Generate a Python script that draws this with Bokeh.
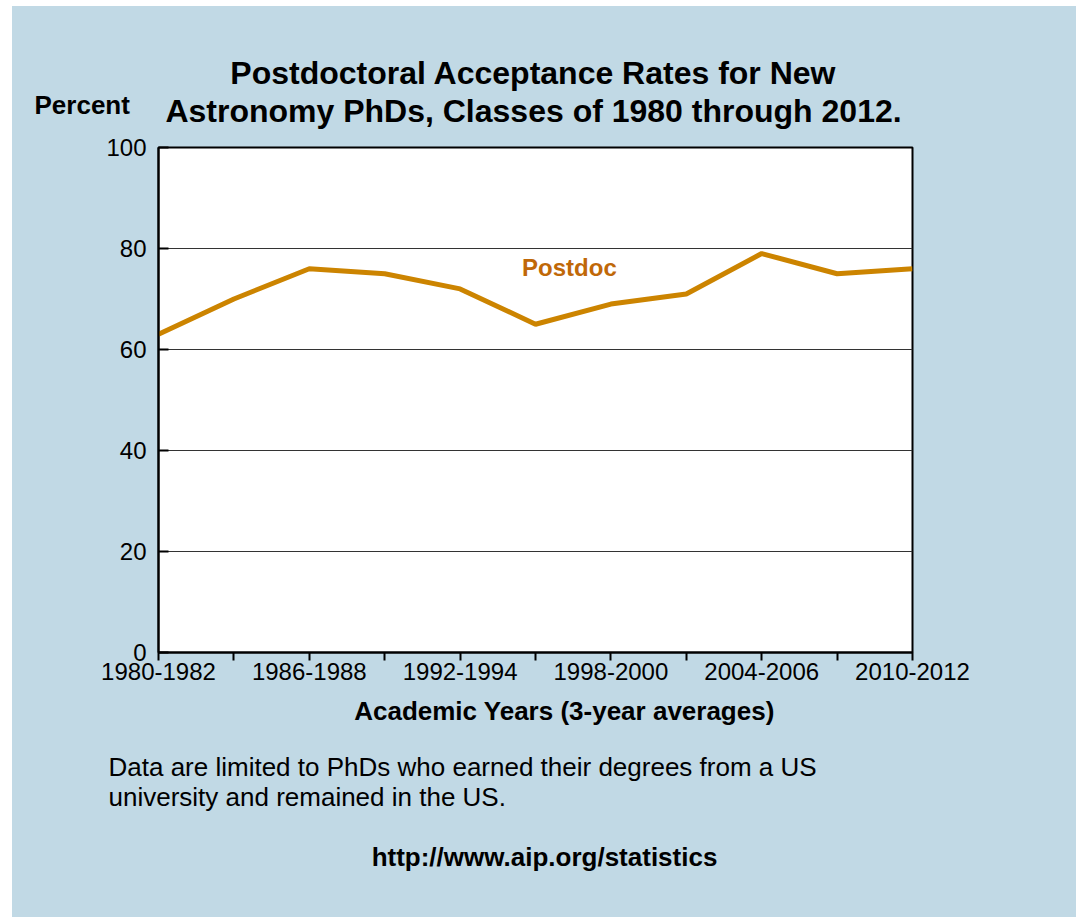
from bokeh.plotting import figure
from bokeh.models import Range1d, FixedTicker, Label
from bokeh.layouts import column
from bokeh.embed import file_html
from bokeh.resources import INLINE

# ---- data ----
periods = ["1980-1982", "1983-1985", "1986-1988", "1989-1991", "1992-1994", "1995-1997",
           "1998-2000", "2001-2003", "2004-2006", "2007-2009", "2010-2012"]
postdoc = [63, 70, 76, 75, 72, 65, 69, 71, 79, 75, 76]
y_ticks = [0, 20, 40, 60, 80, 100]
grid_ticks = [20, 40, 60, 80]

title_lines = ["Postdoctoral Acceptance Rates for New",
               "Astronomy PhDs, Classes of 1980 through 2012."]
y_title = "Percent"
x_title = "Academic Years (3-year averages)"
series_name = "Postdoc"
note_lines = ["Data are limited to PhDs who earned their degrees from a US",
              "university and remained in the US."]
url = "http://www.aip.org/statistics"

BG = "#C1D9E5"
LINE = "#CC8400"
LABEL_C = "#C06808"
FONT = "Liberation Sans"
W = 1064


def text_panel(h):
    f = figure(width=W, height=h, output_backend="svg", toolbar_location=None,
               x_range=Range1d(0, W), y_range=Range1d(0, h),
               x_axis_type=None, y_axis_type=None,
               min_border=0, min_border_left=0, min_border_right=0,
               min_border_top=0, min_border_bottom=0,
               background_fill_color=BG, border_fill_color=BG, outline_line_color=None)
    f.grid.visible = False
    f.margin = 0
    return f


def lbl(f, x, y, text, size, bold=False, color="black", align="center"):
    f.add_layout(Label(x=x, y=y, text=text, text_font=FONT, text_font_size=size,
                       text_font_style="bold" if bold else "normal", text_color=color,
                       text_align=align, text_baseline="alphabetic"))


# ---- top panel: title + y title ----
top = text_panel(126)
lbl(top, 521, 60, title_lines[0], "32px", True)
lbl(top, 521, 22, title_lines[1], "32px", True)
lbl(top, 22, 27.5, y_title, "26px", True, align="left")

# ---- chart ----
xs = list(range(len(periods)))
p = figure(width=W, height=560, output_backend="svg", toolbar_location=None,
           x_range=Range1d(0, len(periods) - 1), y_range=Range1d(0, 100),
           min_border_left=146, min_border_right=164, min_border_top=15, min_border_bottom=40,
           background_fill_color="white", border_fill_color=BG,
           outline_line_color="black", outline_line_width=2)
p.margin = 0

p.xaxis.ticker = FixedTicker(ticks=xs)
p.xaxis.major_label_overrides = {i: (periods[i] if i % 2 == 0 else "") for i in xs}
p.xaxis.major_tick_in = 0
p.xaxis.major_tick_out = 8
p.xaxis.minor_tick_line_color = None
p.xaxis.axis_line_color = "black"
p.xaxis.axis_line_width = 2
p.xaxis.major_tick_line_color = "black"
p.xaxis.major_tick_line_width = 2
p.xaxis.major_label_text_font = FONT
p.xaxis.major_label_text_font_size = "24px"
p.xaxis.major_label_text_color = "black"
p.xaxis.major_label_standoff = 2

p.yaxis.ticker = FixedTicker(ticks=y_ticks)
p.yaxis.major_tick_in = 10
p.yaxis.major_tick_out = 0
p.yaxis.minor_tick_line_color = None
p.yaxis.axis_line_color = "black"
p.yaxis.axis_line_width = 2
p.yaxis.major_tick_line_color = "black"
p.yaxis.major_tick_line_width = 2
p.yaxis.major_label_text_font = FONT
p.yaxis.major_label_text_font_size = "24px"
p.yaxis.major_label_text_color = "black"
p.yaxis.major_label_standoff = 12

p.xgrid.grid_line_color = None
p.ygrid.ticker = FixedTicker(ticks=grid_ticks)
p.ygrid.grid_line_color = "#333333"
p.ygrid.grid_line_width = 1.2

p.line(xs, postdoc, line_color=LINE, line_width=5)
lbl(p, 5.45, 76.3, series_name, "24px", True, LABEL_C)

# ---- bottom panel: x title, note, url ----
bot = text_panel(225)
lbl(bot, 552, 206.5, x_title, "26px", True)
lbl(bot, 96, 150.5, note_lines[0], "26px", align="left")
lbl(bot, 96, 120.5, note_lines[1], "26px", align="left")
lbl(bot, 532, 60.5, url, "26px", True)

c1 = column(top, spacing=0)
c2 = column(p, spacing=0)
c3 = column(bot, spacing=0)
for c in (c1, c2, c3):
    c.margin = 0
layout = column(c1, c2, c3, spacing=0)
layout.margin = (6, 5, 0, 12)
layout.styles = {"background-color": BG}

open("out.html", "w").write(file_html(layout, INLINE))
